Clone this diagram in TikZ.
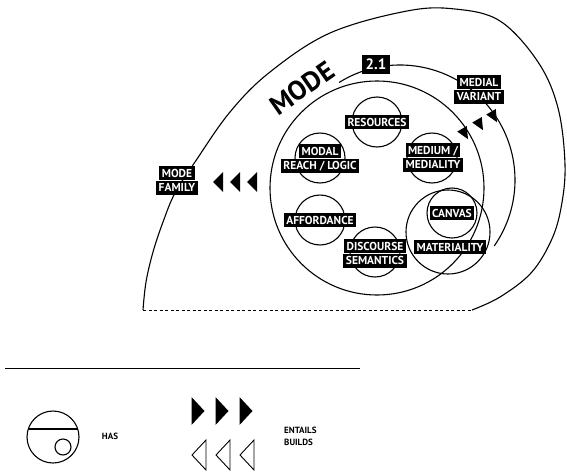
\documentclass[tikz,border=0pt]{standalone}
\usepackage{fontspec}
\newfontfamily\lblfont{PT Sans}
\usetikzlibrary{positioning}

\tikzset{
  lbl/.style={fill=black, text=white, inner xsep=2.5pt, inner ysep=0pt,
    minimum height=14.5pt, text height=8pt, text depth=0pt,
    font=\lblfont\bfseries\fontsize{11.5}{11.5}\selectfont},
  legtxt/.style={inner sep=0pt, font=\lblfont\bfseries\fontsize{9}{12}\selectfont},
  ring/.style={draw, line width=1.1pt},
  fulltri/.pic={\fill (-5,-10) -- (5,0) -- (-5,10) -- cycle;},
  sharptri/.pic={\fill (-6,-5.5) -- (6,0) -- (-6,5.5) -- cycle;},
  opentri/.pic={\draw[line width=0.9pt, line join=miter] (7,-15) -- (-7,0) -- (7,15) -- cycle;},
}

\begin{document}
\begin{tikzpicture}[x=1pt, y=-1pt]
\useasboundingbox (0,0) rectangle (567,471);

% family outline
\draw[ring] plot[smooth, tension=0.6] coordinates {(143,310) (146,282) (153,252) (163,222)
  (175,193) (195,162) (230,112) (270,72) (330,33) (407,11) (455,9) (500,21) (538,62)
  (558,108) (565,165) (561,208) (551,241) (531,273) (500,297) (472,310)};
\draw[line width=0.9pt, dash pattern=on 3pt off 2.5pt] (143,310) -- (472,310);

% mode and variant rings
\draw[ring] (377,188) circle (107);
\draw[ring] (400,180) ++(238:115) arc (238:395:115);

% inner rings
\draw[ring] (377,122) circle (25);
\draw[ring] (320,158) circle (25);
\draw[ring] (432,158) circle (25);
\draw[ring] (320,220) circle (25);
\draw[ring] (375,252) circle (25);
\draw[ring] (452,213) circle (25);
\draw[ring] (448,232) circle (42);

% labels
\node[rotate=35, inner sep=0pt, font=\lblfont\bfseries\fontsize{27}{27}\selectfont] (M) at (302,88) {MODE};
\node[lbl, minimum height=19pt, minimum width=28pt, text height=10pt,
  font=\lblfont\bfseries\fontsize{15}{15}\selectfont] (V) at (376,64) {2.1};
\node[lbl] (R) at (377,122) {RESOURCES};
\node[lbl] (ML1) at (320,151) {MODAL};
\node[lbl, below=0pt of ML1] (ML2) {REACH / LOGIC};
\node[lbl] (MM1) at (433,150) {MEDIUM /};
\node[lbl, below=0pt of MM1] (MM2) {MEDIALITY};
\node[lbl] (AF) at (320,220) {AFFORDANCE};
\node[lbl] (DS1) at (375,246) {DISCOURSE};
\node[lbl, below=0pt of DS1] (DS2) {SEMANTICS};
\node[lbl] (CA) at (452,213) {CANVAS};
\node[lbl] (MA) at (450,247) {MATERIALITY};
\node[lbl] (MV1) at (479,82) {MEDIAL};
\node[lbl, below=0pt of MV1] (MV2) {VARIANT};
\node[lbl] (MF1) at (177,173) {MODE};
\node[lbl, below=0pt of MF1] (MF2) {FAMILY};

% builds / entails marks
\foreach \x in {218,235,252}
  \pic[rotate=180] at (\x,182) {fulltri};
\foreach \x/\y in {465/134,480/125,494/117}
  \pic[rotate=-60] at (\x,\y) {sharptri};

% legend
\draw[line width=1pt] (5,368) -- (360,368);
\draw[line width=1.1pt] (53,437) circle (26);
\draw[line width=1.1pt] (28.3,429) -- (77.7,429);
\draw[line width=1.1pt] (63,447) circle (8);
\node[legtxt] (H) at (110,436) {HAS};
\foreach \x in {198,222,246}
  \pic[xscale=1.3, yscale=1.4] at (\x,411) {fulltri};
\foreach \x in {199,223,247}
  \pic at (\x,455) {opentri};
\node[legtxt, align=left, anchor=west] (EB) at (284,436) {ENTAILS\\BUILDS};
\end{tikzpicture}
\end{document}
